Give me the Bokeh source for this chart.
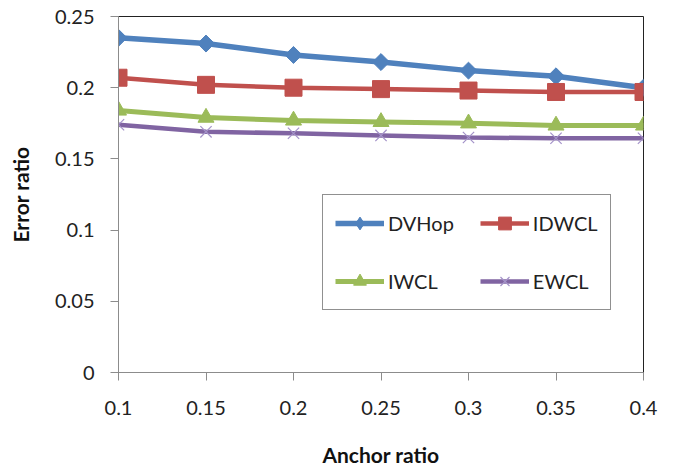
import numpy as np
from bokeh.plotting import figure
from bokeh.models import Legend, LegendItem, Range1d, FixedTicker
from bokeh.embed import file_html
from bokeh.resources import INLINE

anchor_ratio = [0.1, 0.15, 0.2, 0.25, 0.3, 0.35, 0.4]
dvhop = [0.235, 0.231, 0.223, 0.218, 0.212, 0.208, 0.200]
idwcl = [0.207, 0.202, 0.200, 0.199, 0.198, 0.197, 0.197]
iwcl = [0.184, 0.179, 0.177, 0.176, 0.175, 0.1735, 0.1735]
ewcl = [0.174, 0.169, 0.168, 0.1665, 0.165, 0.1645, 0.1645]
x_ticks = [0.1, 0.15, 0.2, 0.25, 0.3, 0.35, 0.4]
y_ticks = [0, 0.05, 0.1, 0.15, 0.2, 0.25]

FONT = "Lato"

p = figure(width=673, height=471, output_backend="svg", toolbar_location=None,
           x_range=Range1d(0.1, 0.4), y_range=Range1d(0, 0.25),
           min_border_left=118, min_border_right=30, min_border_top=16,
           min_border_bottom=99)
p.background_fill_color = "white"
p.border_fill_color = "white"
p.outline_line_color = "#222222"
p.outline_line_width = 1
p.grid.visible = False

for ax in (p.xaxis[0], p.yaxis[0]):
    ax.axis_line_color = "#8c8c8c"
    ax.major_tick_line_color = "#8c8c8c"
    ax.major_tick_out = 8
    ax.major_tick_in = 0
    ax.minor_tick_line_color = None
    ax.major_label_text_font = FONT
    ax.major_label_text_font_size = "20px"
    ax.major_label_text_color = "#222222"
    ax.axis_label_text_font = FONT
    ax.axis_label_text_font_size = "21px"
    ax.axis_label_text_font_style = "bold"
    ax.axis_label_text_color = "#111111"

p.xaxis.ticker = FixedTicker(ticks=x_ticks)
p.yaxis.ticker = FixedTicker(ticks=y_ticks)
p.xaxis.major_label_overrides = {t: f"{t:g}" for t in x_ticks}
p.yaxis.major_label_overrides = {t: f"{t:g}" for t in y_ticks}
p.xaxis.major_label_standoff = 20
p.yaxis.major_label_standoff = 16
p.xaxis.axis_label = "Anchor ratio"
p.yaxis.axis_label = "Error ratio"
p.xaxis.axis_label_standoff = 24
p.yaxis.axis_label_standoff = 19

legend_refs = {}

# DVHop: a hidden slim diamond (used for the legend) beneath a rotated square
ln = p.line(anchor_ratio, dvhop, line_color="#4F81BD", line_width=5.5)
dia = p.scatter(anchor_ratio, dvhop, marker="diamond", size=15,
                fill_color="#4F81BD", line_color="#4F81BD")
p.scatter(anchor_ratio, dvhop, marker="square", size=12, angle=np.pi / 4,
          fill_color="#4F81BD", line_color="#4F81BD")
legend_refs["DVHop"] = [ln, dia]

ln = p.line(anchor_ratio, idwcl, line_color="#C0504D", line_width=4.5)
sc = p.scatter(anchor_ratio, idwcl, marker="square", size=17,
               fill_color="#C0504D", line_color="#C0504D")
legend_refs["IDWCL"] = [ln, sc]

ln = p.line(anchor_ratio, iwcl, line_color="#9BBB59", line_width=5)
sc = p.scatter(anchor_ratio, iwcl, marker="triangle", size=16,
               fill_color="#9BBB59", line_color="#9BBB59")
legend_refs["IWCL"] = [ln, sc]

ln = p.line(anchor_ratio, ewcl, line_color="#8064A2", line_width=4.5)
sc = p.scatter(anchor_ratio, ewcl, marker="x", size=16, line_color="#a493c9",
               line_width=1.2)
legend_refs["EWCL"] = [ln, sc]

# ncols legend fills column by column: order so that rows read DVHop, IDWCL / IWCL, EWCL
order = ["DVHop", "IWCL", "IDWCL", "EWCL"]
items = [LegendItem(label=n, renderers=legend_refs[n]) for n in order]

legend = Legend(items=items, location=(204, 62), ncols=2)
legend.border_line_color = "#222222"
legend.border_line_width = 1
legend.background_fill_color = "white"
legend.background_fill_alpha = 1
legend.padding = 12
legend.margin = 0
legend.spacing = 26
legend.glyph_width = 49
legend.glyph_height = 32
legend.label_height = 32
legend.label_standoff = 4
legend.label_text_font = FONT
legend.label_text_font_size = "20px"
legend.label_text_color = "#222222"
p.add_layout(legend, "center")

open("out.html", "w").write(file_html(p, INLINE))
